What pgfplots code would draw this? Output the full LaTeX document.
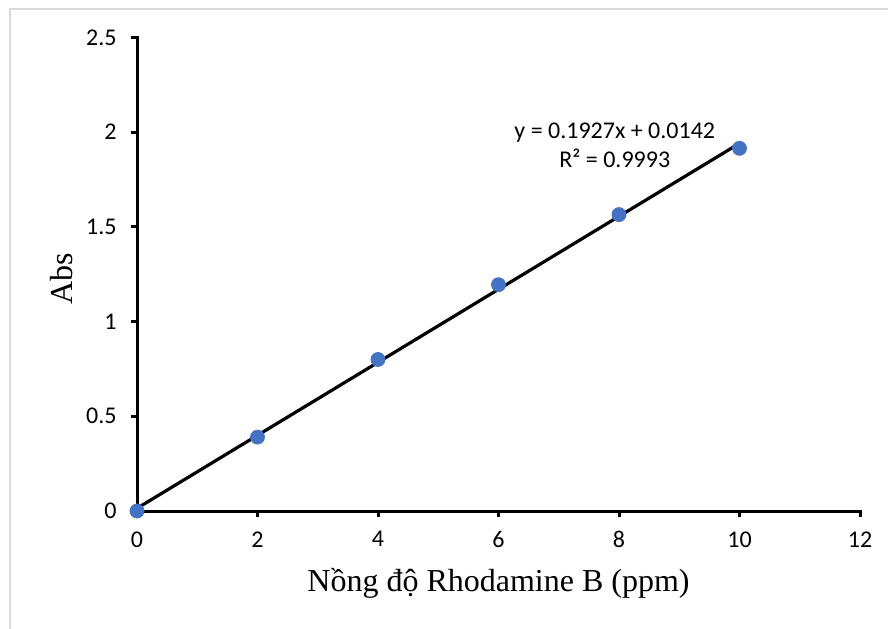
\documentclass[border=0pt]{standalone}
\usepackage{pgfplots}
\pgfplotsset{compat=1.18}
\usepackage{fontspec}
\setmainfont{Carlito}
\newfontfamily\tnr{Liberation Serif}
\definecolor{mk}{HTML}{4472C4}
\definecolor{frame}{HTML}{D9D9D9}
\begin{document}
\begin{tikzpicture}
\useasboundingbox (0,0) rectangle (444pt,314pt);
\draw[frame, line width=1pt] (4.9pt,-1pt) -- (4.9pt,309.4pt) -- (445pt,309.4pt);
\begin{axis}[
  at={(68.5pt,58.5pt)}, anchor=origin,
  scale only axis, width=361.5pt, height=236.75pt,
  xmin=0, xmax=12, ymin=0, ymax=2.5,
  axis lines=left, axis line style={-, line width=1.5pt, line cap=rect},
  xtick={0,2,...,12}, ytick={0,0.5,...,2.5},
  tick align=outside, major tick length=3.2pt,
  tick style={black, line width=1.5pt},
  /pgf/number format/assume math mode=true,
  ticklabel style={font=\fontsize{12}{14}\selectfont},
  xticklabel style={yshift=-3.5pt},
  yticklabel style={xshift=-3.5pt},
  xlabel={\tnr Nồng độ Rhodamine B (ppm)},
  ylabel={\tnr Abs},
  xlabel style={at={(axis description cs:0.5,-0.152)}, anchor=center, font=\fontsize{16}{18}\selectfont},
  ylabel style={at={(axis description cs:-0.104,0.49)}, anchor=center, rotate=0, font=\fontsize{16}{18}\selectfont},
  clip=false,
]
\addplot[only marks, mark=*, mark size=3.5pt, mark options={fill=mk, draw=mk}] coordinates {
  (0,0) (2,0.39) (4,0.80) (6,1.195) (8,1.565) (10,1.915)
};
\addplot[black, line width=1.6pt] coordinates {(0,0.0142) (10,1.9412)};
\node[align=center, font=\fontsize{12}{14.5}\selectfont] at (axis cs:7.93,1.93) {y = 0.1927x + 0.0142\\R² = 0.9993};
\end{axis}
\end{tikzpicture}
\end{document}
